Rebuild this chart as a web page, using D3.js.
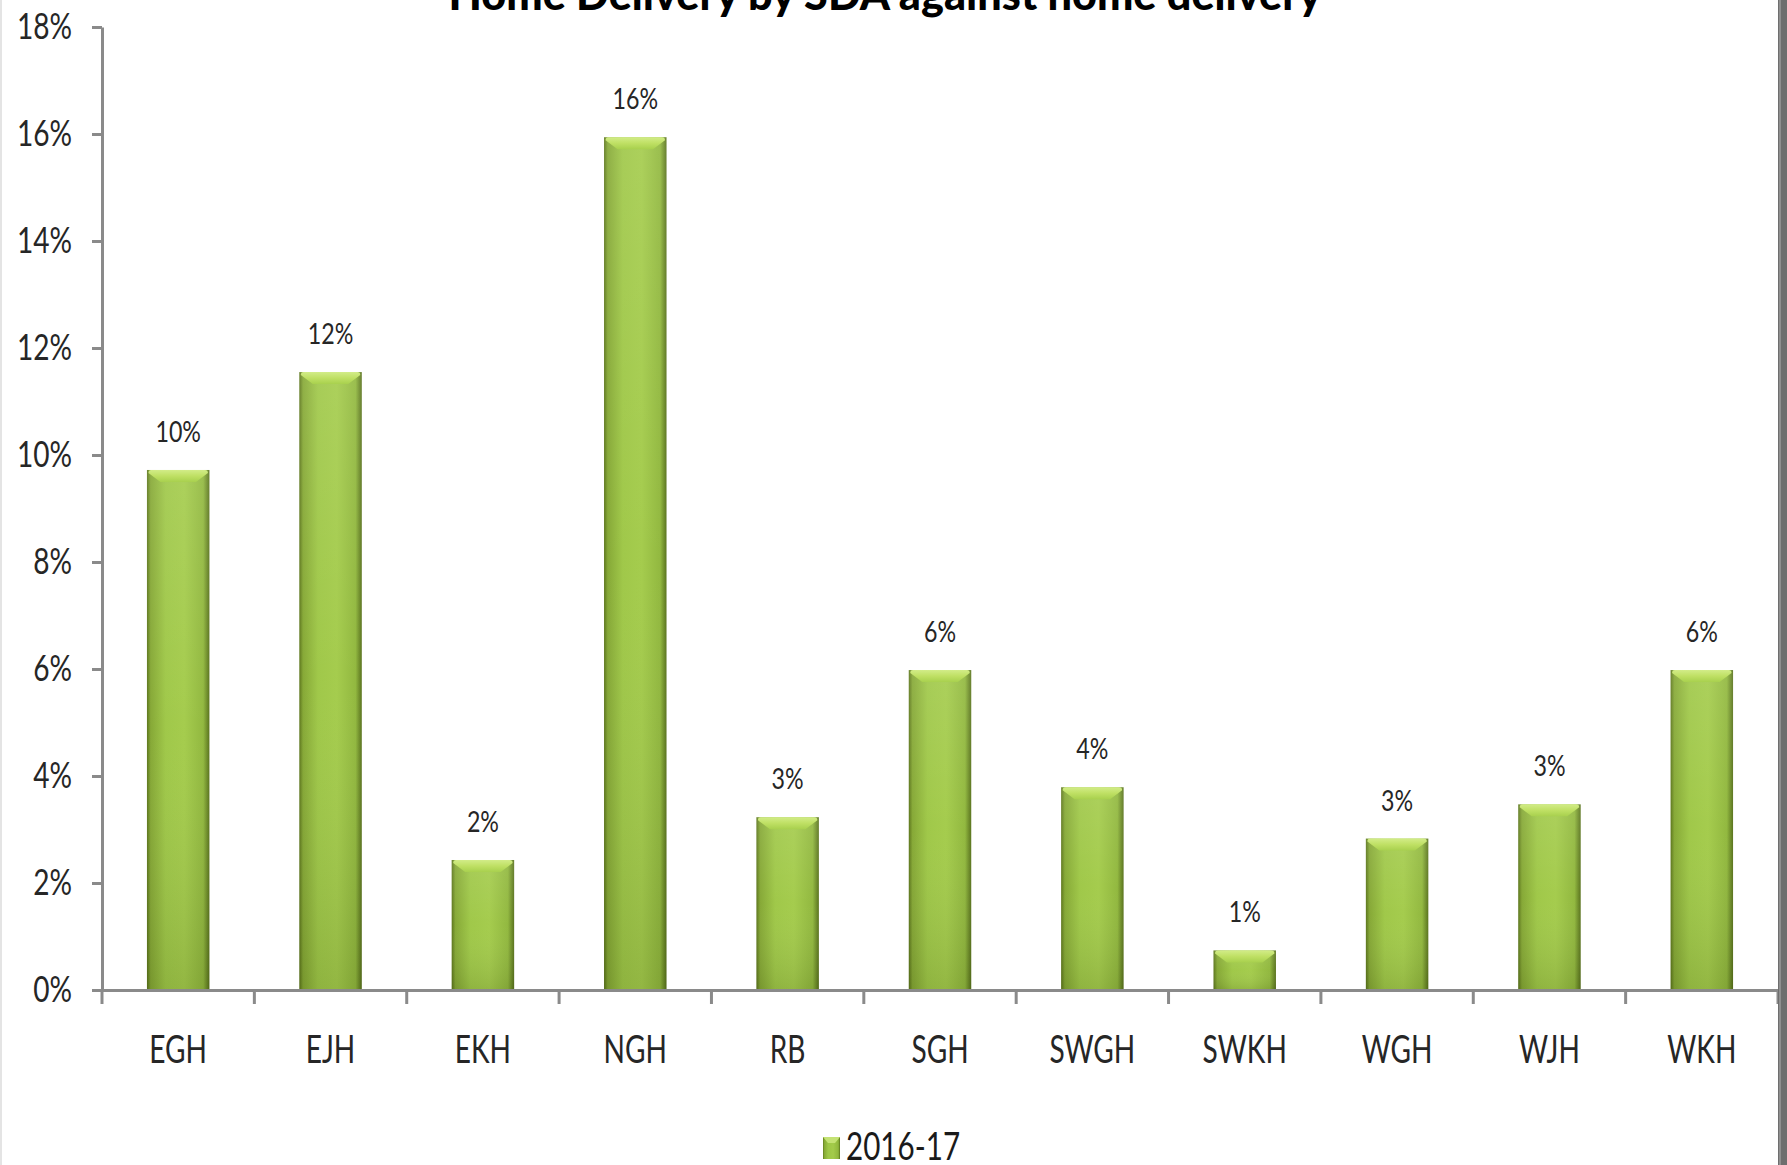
<!DOCTYPE html>
<html><head><meta charset="utf-8">
<script src="https://cdn.jsdelivr.net/npm/d3@7"></script>
<style>body{margin:0;background:#fff}svg{display:block}text{font-family:Lato,"Open Sans",sans-serif}</style>
</head><body>
<svg id="c" width="1787" height="1165"></svg>
<script>
const title = "Home Delivery by SDA against home delivery";
const categories = ["EGH","EJH","EKH","NGH","RB","SGH","SWGH","SWKH","WGH","WJH","WKH"];
const seriesName = "2016-17";
const values = [0.0972,0.1155,0.0243,0.1594,0.0323,0.0598,0.0379,0.0074,0.0283,0.0347,0.0598];
const yTicks = [0,0.02,0.04,0.06,0.08,0.10,0.12,0.14,0.16,0.18];

const W = 1787, H = 1165;
const svg = d3.select("#c");
const pct = d3.format(".0%");

const x = d3.scaleBand().domain(categories).range([102, 1778]).paddingInner(0.59).paddingOuter(0.295);
const y = d3.scaleLinear().domain([0, 0.18]).range([990, 27]);

// gradients
const defs = svg.append("defs");
const gH = defs.append("linearGradient").attr("id","gH").attr("x1",0).attr("x2",1).attr("y1",0).attr("y2",0);
[[0,"#5a7419"],[0.06,"#84a733"],[0.3,"#9ec746"],[0.6,"#a3cb4a"],[0.9,"#90b73c"],[1,"#57711a"]]
  .forEach(([o,c])=>gH.append("stop").attr("offset",o).attr("stop-color",c));
const gV = defs.append("linearGradient").attr("id","gV").attr("x1",0).attr("x2",0).attr("y1",0).attr("y2",1);
[[0,"#ffffff",0.10],[0.5,"#ffffff",0.02],[1,"#000000",0.10]]
  .forEach(([o,c,a])=>gV.append("stop").attr("offset",o).attr("stop-color",c).attr("stop-opacity",a));
const gT = defs.append("linearGradient").attr("id","gT").attr("x1",0).attr("x2",0).attr("y1",0).attr("y2",1);
[[0,"#d2ec88"],[0.5,"#bfe064"],[1,"#a8d04e"]].forEach(([o,c])=>gT.append("stop").attr("offset",o).attr("stop-color",c));

// title
svg.append("text").attr("x", 885).attr("y", 10).attr("text-anchor","middle")
  .attr("font-size", 44).attr("font-weight", 900).attr("fill","#000")
  .attr("textLength", 873).attr("lengthAdjust","spacingAndGlyphs").text(title);

// bars
const bw = x.bandwidth();
const bars = svg.append("g").selectAll("g").data(categories).join("g");
bars.append("rect").attr("x", d=>x(d)).attr("y", (d,i)=>y(values[i]))
  .attr("width", bw).attr("height", (d,i)=>y(0)-y(values[i])).attr("fill","url(#gH)");
bars.append("rect").attr("x", d=>x(d)).attr("y", (d,i)=>y(values[i]))
  .attr("width", bw).attr("height", (d,i)=>y(0)-y(values[i])).attr("fill","url(#gV)");
const bev = 12;
bars.append("path").attr("d",(d,i)=>{
  const x0 = x(d)+1.5, x1 = x(d) + bw - 1.5, t = y(values[i]);
  const b = Math.min(bev, (y(0)-t)/2);
  return `M${x0},${t+3} Q${x0},${t} ${x0+3},${t} L${x1-3},${t} Q${x1},${t} ${x1},${t+3} L${x1-b},${t+b} L${x0+b},${t+b} Z`;
}).attr("fill","url(#gT)");

// value labels
function squeeze(sel, s){
  sel.each(function(){
    const t = d3.select(this);
    const xx = +t.attr("x") || 0;
    t.attr("x", xx / s).attr("transform", `scale(${s},1)`);
  });
}
const vl = svg.append("g").selectAll("text").data(categories).join("text")
  .attr("x", d=>x(d)+bw/2).attr("y",(d,i)=>y(values[i])-28)
  .attr("text-anchor","middle").attr("font-size",29).attr("fill","#262626")
  .text((d,i)=>pct(values[i]));
squeeze(vl, 0.8);

// y axis
const ya = svg.append("g").attr("transform","translate(102,0)")
  .call(d3.axisLeft(y).tickValues(yTicks).tickFormat(pct).tickSize(10).tickSizeOuter(0).tickPadding(20));
ya.select(".domain").attr("stroke","#8a8a8a").attr("stroke-width",3);
ya.selectAll(".tick line").attr("stroke","#8a8a8a").attr("stroke-width",3);
ya.selectAll(".tick text").attr("font-size",36).attr("fill","#262626").attr("font-family","Lato");
squeeze(ya.selectAll(".tick text"), 0.78);

// x axis
const xa = svg.append("g").attr("transform","translate(0,990)")
  .call(d3.axisBottom(x).tickSize(0).tickSizeOuter(0).tickPadding(45));
xa.select(".domain").attr("stroke","#8a8a8a").attr("stroke-width",3);
xa.selectAll(".tick text").attr("font-size",39).attr("fill","#262626").attr("font-family","Lato")
  .attr("transform","scale(0.72,1)");
xa.selectAll(".tick").each(function(){
  const g = d3.select(this);
  const m = /translate\(([-\d.]+),/.exec(g.attr("transform"));
  const px = +m[1];
  g.attr("transform", null);
  g.select("text").attr("x", px/0.72);
});
const bounds = d3.range(categories.length + 1).map(i => x.range()[0] + i * x.step());
xa.append("g").selectAll("line").data(bounds).join("line")
  .attr("x1",d=>d).attr("x2",d=>d).attr("y1",0).attr("y2",14)
  .attr("stroke","#8a8a8a").attr("stroke-width",3);

// legend
const lg = svg.append("g");
lg.append("rect").attr("x",823).attr("y",1137).attr("width",17).attr("height",22).attr("fill","url(#gH)");
lg.append("path").attr("d","M823,1137 L840,1137 L835,1143 L828,1143 Z").attr("fill","#c4e274");
const lt = lg.append("text").attr("x",846).attr("y",1160).attr("font-size",39).attr("fill","#1a1a1a").text(seriesName);
squeeze(lt, 0.76);

// frame edges
svg.append("rect").attr("x",1778).attr("y",0).attr("width",9).attr("height",H).attr("fill","#6e6e6e");
svg.append("rect").attr("x",1779).attr("y",0).attr("width",2).attr("height",H).attr("fill","#8f8f8f");
svg.append("line").attr("x1",1).attr("x2",1).attr("y1",0).attr("y2",H).attr("stroke","#e4e4e4").attr("stroke-width",2);
</script>
</body></html>
